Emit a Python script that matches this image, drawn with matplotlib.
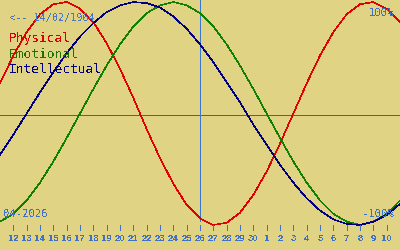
import matplotlib
matplotlib.use('Agg')
import matplotlib.pyplot as plt
from matplotlib import font_manager

# Biorhythm around 26/04/2026 for someone born 14/02/1964
# x = days from 11 April 2026 (-1..1)
days = list(range(31))
physical = [0.27, 0.52, 0.73, 0.89, 0.98, 1.00, 0.94, 0.82, 0.63, 0.40, 0.14,
            -0.14, -0.40, -0.63, -0.82, -0.94, -1.00, -0.98, -0.89, -0.73, -0.52,
            -0.27, 0.00, 0.27, 0.52, 0.73, 0.89, 0.98, 1.00, 0.94, 0.82]
emotional = [-0.97, -0.90, -0.78, -0.62, -0.43, -0.22, 0.00, 0.22, 0.43, 0.62, 0.78,
             0.90, 0.97, 1.00, 0.97, 0.90, 0.78, 0.62, 0.43, 0.22, 0.00,
             -0.22, -0.43, -0.62, -0.78, -0.90, -0.97, -1.00, -0.97, -0.90, -0.78]
intellectual = [-0.37, -0.19, 0.00, 0.19, 0.37, 0.54, 0.69, 0.81, 0.91, 0.97, 1.00,
                0.99, 0.95, 0.87, 0.76, 0.62, 0.46, 0.28, 0.10, -0.10, -0.28,
                -0.46, -0.62, -0.76, -0.87, -0.95, -0.99, -1.00, -0.97, -0.91, -0.81]
tick_days = list(range(1, 30))
tick_labels = ['12', '13', '14', '15', '16', '17', '18', '19', '20', '21', '22',
               '23', '24', '25', '26', '27', '28', '29', '30', '1', '2', '3', '4',
               '5', '6', '7', '8', '9', '10']
today = 15
birth = '14/02/1964'
month = '04-2026'

plt.rcParams['text.antialiased'] = False

# narrow font for the day numbers if there is one
names = set(f.name for f in font_manager.fontManager.ttflist)
if 'Liberation Sans Narrow' in names:
    tick_font, tick_size = 'Liberation Sans Narrow', 8.5
elif 'DejaVu Sans Condensed' in names:
    tick_font, tick_size = 'DejaVu Sans Condensed', 7
else:
    tick_font, tick_size = 'Liberation Sans', 6.8

W, H = 400, 250
BG = '#e0d383'
TXT = '#3f72c4'
LW = 0.5

fig = plt.figure(figsize=(4, 2.5), dpi=100, facecolor=BG)
ax = fig.add_axes([0, 0, 1, 1])
ax.set_facecolor(BG)
ax.axis('off')

def vy(p):
    # pixel row -> value
    return (113.5 - p) / 111.5

ax.set_xlim(0, 30)
ax.set_ylim(vy(H), vy(0))

ax.axhline(vy(115), color='#4c6088', lw=LW, antialiased=False)
ax.vlines(today, vy(221), vy(0), color='#3a78d0', lw=LW, antialiased=False)

ax.plot(days, physical, color='#e00000', lw=0.4, antialiased=False)
ax.plot(days, emotional, color='#108000', lw=0.4, antialiased=False)
ax.plot(days, intellectual, color='#000080', lw=0.4, antialiased=False)

ax.vlines(tick_days, vy(230), vy(225), color=TXT, lw=LW, antialiased=False)
for d, lab in zip(tick_days, tick_labels):
    ax.text(d, vy(241), lab, ha='center', va='baseline', color=TXT,
            fontsize=tick_size, family=tick_font, fontweight='bold')

def ftext(x, y, s, **kw):
    fig.text(x / W, 1 - y / H, s, va='baseline', family='DejaVu Sans Mono', **kw)

ftext(9, 21, '<-- ' + birth, color='#4a78c8', fontsize=7.4)
ftext(9, 42, 'Physical', color='#d80000', fontsize=9.3)
ftext(9, 57.5, 'Emotional', color='#207000', fontsize=9.3)
ftext(9, 73, 'Intellectual', color='#000080', fontsize=9.3)
ftext(394, 16, '100%', color=TXT, fontsize=7.6, ha='right')
ftext(394, 217, '-100%', color=TXT, fontsize=7.6, ha='right')
ftext(3, 217, month, color=TXT, fontsize=7.6)

fig.savefig('out.png', dpi=100, facecolor=BG)
